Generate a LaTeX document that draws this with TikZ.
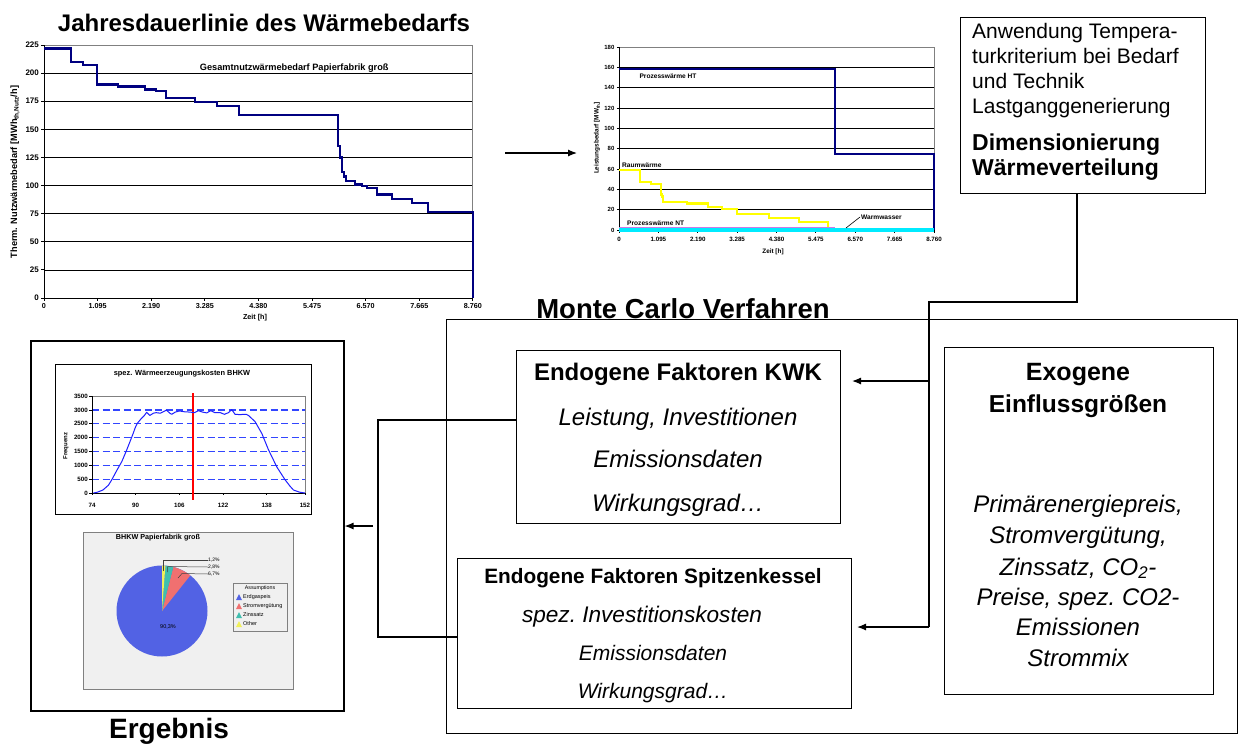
\documentclass[tikz,border=0pt]{standalone}
\usepackage{fontspec}
\setmainfont{Liberation Sans}
\usetikzlibrary{arrows.meta}

\definecolor{navyline}{RGB}{0,0,128}
\definecolor{rwyellow}{RGB}{255,255,0}
\definecolor{wwcyan}{RGB}{0,235,255}
\definecolor{ntviolet}{RGB}{205,120,230}
\definecolor{histblue}{RGB}{30,30,255}
\definecolor{dashblue}{RGB}{50,70,255}
\definecolor{pieblue}{RGB}{82,98,228}
\definecolor{piered}{RGB}{240,112,112}
\definecolor{pieteal}{RGB}{64,190,175}
\definecolor{pieyellow}{RGB}{240,240,90}
\definecolor{piebg}{RGB}{240,240,240}

\newcommand\setfs[1]{\fontsize{#1}{#1}\selectfont}

\tikzset{
  box/.style={draw=black, line width=1.3pt, inner sep=0pt, anchor=north west},
  conn/.style={line width=1.2pt},
  arr/.style={conn, -{Latex[length=9pt,width=7pt]}},
  gridln/.style={black, line width=0.7pt},
  frameln/.style={gray, line width=0.9pt},
  axisln/.style={black, line width=0.9pt},
  txt/.style={inner sep=0pt, anchor=base},
  lbl/.style={inner sep=1pt, font=\bfseries\setfs{#1}},
}

\begin{document}
\begin{tikzpicture}[x=1pt, y=-1pt]
\useasboundingbox (0,0) rectangle (1242,744);
\fill[white] (0,0) rectangle (1242,744);

% ---------- Jahresdauerlinie (top left) ----------
\node[txt, font=\bfseries\setfs{24}] (jtitle) at (264,31) {Jahresdauerlinie des Wärmebedarfs};
\begin{scope}[shift={(44,298)}, x=0.048973pt, y=1.12444pt]
  \foreach \v in {25,50,...,200} \draw[gridln] (0,\v) -- (8760,\v);
  \draw[frameln] (0,225) -- (8760,225) -- (8760,0);
  \draw[axisln] (0,225) -- (0,0) -- (8760,0);
  \foreach \v in {0,25,...,225} {
    \draw[axisln] (0,\v) -- (-60,\v);
    \node[lbl=8, anchor=east] (jy\v) at (-80,\v) {\v};
  }
  \foreach \h/\t in {0/0,1095/1.095,2190/2.190,3285/3.285,4380/4.380,5475/5.475,6570/6.570,7665/7.665,8760/8.760} {
    \draw[axisln] (\h,0) -- (\h,-3);
    \node[lbl=7.2] (jx\h) at (\h,-7.3) {\t};
  }
  \node[lbl=9.2] (jsub) at (5110,204) {Gesamtnutzwärmebedarf Papierfabrik groß};
  \draw[navyline, line width=2.4pt, line join=miter]
    (0,222) -- (551,222) -- (551,210) -- (800,210) -- (800,207) -- (1078,207) -- (1078,190)
    -- (1515,190) -- (1515,188) -- (2062,188) -- (2062,185.5) -- (2287,185.5) -- (2287,184)
    -- (2487,184) -- (2487,178) -- (3083,178) -- (3083,174.5) -- (3528,174.5) -- (3528,171)
    -- (3986,171) -- (3986,162.5) -- (6003,162.5) -- (6003,135) -- (6040,135) -- (6040,125)
    -- (6080,125) -- (6080,112) -- (6130,112) -- (6130,108) -- (6170,108) -- (6170,104)
    -- (6351,104) -- (6351,101) -- (6500,101) -- (6500,99.5) -- (6596,99.5) -- (6596,98)
    -- (6800,98) -- (6800,92) -- (7106,92) -- (7106,88) -- (7515,88) -- (7515,84.5)
    -- (7841,84.5) -- (7841,76.5) -- (8760,76.5) -- (8760,0);
\end{scope}
\node[lbl=9.2, rotate=90] (jylab) at (15,172) {Therm. Nutzwärmebedarf [MWh\textsubscript{th,Nutz}/h]};
\node[lbl=7.2] (jxlab) at (255,318) {Zeit [h]};

% ---------- Leistungsbedarf (top middle) ----------
\begin{scope}[shift={(619,230)}, x=0.035959pt, y=1.0167pt]
  \foreach \v in {20,40,...,160} \draw[gridln] (0,\v) -- (8760,\v);
  \draw[frameln] (0,180) -- (8760,180) -- (8760,0);
  \draw[axisln] (0,180) -- (0,0) -- (8760,0);
  \foreach \v in {0,20,...,180} {
    \draw[axisln] (0,\v) -- (-60,\v);
    \node[lbl=6, anchor=east] (ly\v) at (-95,\v) {\v};
  }
  \foreach \h/\t in {0/0,1095/1.095,2190/2.190,3285/3.285,4380/4.380,5475/5.475,6570/6.570,7665/7.665,8760/8.760} {
    \draw[axisln] (\h,0) -- (\h,-2.5);
    \node[lbl=6.2] (lx\h) at (\h,-9.3) {\t};
  }
  \draw[navyline, line width=2.2pt, line join=miter]
    (0,158.5) -- (6007,158.5) -- (6007,75) -- (8760,75) -- (8760,0);
  \draw[rwyellow, line width=2.2pt, line join=miter]
    (0,59) -- (584,59) -- (584,47.5) -- (890,47.5) -- (890,45) -- (1168,45) -- (1168,35)
    -- (1200,35) -- (1200,33) -- (1230,33) -- (1230,27.5) -- (1890,27.5) -- (1890,26)
    -- (2475,26) -- (2475,23) -- (2860,23) -- (2860,21) -- (3280,21) -- (3280,15.5)
    -- (4170,15.5) -- (4170,12) -- (5014,12) -- (5014,8) -- (5821,8) -- (5821,0);
  \draw[ntviolet, line width=1.6pt] (0,2.6) -- (6007,2.6);
  \draw[wwcyan, line width=3.2pt] (0,0) -- (8760,0);
\end{scope}
\node[lbl=6.6] (lht) at (668,76) {Prozesswärme HT};
\node[lbl=6.6, anchor=west] (lrw) at (621,165) {Raumwärme};
\node[lbl=6.6, anchor=west] (lnt) at (626,223) {Prozesswärme NT};
\node[lbl=6.6, anchor=west] (lww) at (860,217) {Warmwasser};
\draw[black, line width=0.6pt] (846,228) -- (lww.west);
\node[lbl=6.4, rotate=90] (lylab) at (597,138) {Leistungsbedarf [MW\textsubscript{th}]};
\node[lbl=6.4] (lxlab) at (773,252) {Zeit [h]};

% arrow between the two load curves
\coordinate (ta1) at (505,153);
\coordinate (ta2) at (577,153);
\draw[arr] (ta1) -- (ta2);

% ---------- Dimensionierung box (top right) ----------
\node[box, minimum width=245pt, minimum height=176pt] (dim) at (960,17) {};
\node[txt, anchor=base west, font=\setfs{21}] (d1) at (972,38) {Anwendung Tempera-};
\node[txt, anchor=base west, font=\setfs{21}] (d2) at (972,63) {turkriterium bei Bedarf};
\node[txt, anchor=base west, font=\setfs{21}] (d3) at (972,88) {und Technik};
\node[txt, anchor=base west, font=\setfs{21}] (d4) at (972,113) {Lastganggenerierung};
\node[txt, anchor=base west, font=\bfseries\setfs{23}] (d5) at (972,150) {Dimensionierung};
\node[txt, anchor=base west, font=\bfseries\setfs{23}] (d6) at (972,175) {Wärmeverteilung};

% ---------- Monte Carlo frame ----------
\node[box, minimum width=791pt, minimum height=414pt] (mc) at (446,319) {};
\node[txt, font=\bfseries\setfs{27.5}] (mctitle) at (683,318) {Monte Carlo Verfahren};

% Endogene Faktoren KWK
\node[box, minimum width=324pt, minimum height=173pt] (kwk) at (516,350) {};
\node[txt, font=\bfseries\setfs{24}] (k1) at (678,380) {Endogene Faktoren KWK};
\node[txt, font=\itshape\setfs{24}] (k2) at (678,425) {Leistung, Investitionen};
\node[txt, font=\itshape\setfs{24}] (k3) at (678,467) {Emissionsdaten};
\node[txt, font=\itshape\setfs{24}] (k4) at (678,511) {Wirkungsgrad…};

% Endogene Faktoren Spitzenkessel
\node[box, minimum width=394pt, minimum height=150pt] (spk) at (457,558) {};
\node[txt, font=\bfseries\setfs{20.8}] (s1) at (653,583) {Endogene Faktoren Spitzenkessel};
\node[txt, font=\itshape\setfs{22.6}] (s2) at (642,622) {spez.\ Investitionskosten};
\node[txt, font=\itshape\setfs{21}] (s3) at (653,660) {Emissionsdaten};
\node[txt, font=\itshape\setfs{21}] (s4) at (653,698) {Wirkungsgrad…};

% Exogene Einflussgroessen
\node[box, minimum width=269pt, minimum height=347pt] (exo) at (944,347) {};
\node[txt, font=\bfseries\setfs{25}] (e1) at (1078,380) {Exogene};
\node[txt, font=\bfseries\setfs{24.5}] (e2) at (1078,412) {Einflussgrößen};
\node[txt, font=\itshape\setfs{24}] (e3) at (1078,512) {Primärenergiepreis,};
\node[txt, font=\itshape\setfs{24}] (e4) at (1078,543) {Stromvergütung,};
\node[txt, font=\itshape\setfs{24}] (e5) at (1078,575) {Zinssatz, CO\textsubscript{2}-};
\node[txt, font=\itshape\setfs{24}] (e6) at (1078,605) {Preise, spez.\ CO2-};
\node[txt, font=\itshape\setfs{24}] (e7) at (1078,635) {Emissionen};
\node[txt, font=\itshape\setfs{24}] (e8) at (1078,666) {Strommix};

% connectors from the Dimensionierung box into the endogenous factors
\coordinate (dtap) at (1077,193);
\coordinate (dbend) at (929,302);
\coordinate (ktap) at (929,381);
\coordinate (kin) at (852,381);
\coordinate (stap) at (929,627);
\coordinate (sin) at (857,627);
\draw[conn] (dtap) |- (dbend) -- (stap);
\draw[arr] (ktap) -- (kin);
\draw[arr] (stap) -- (sin);

% ---------- Ergebnis ----------
\node[box, line width=1.5pt, minimum width=313pt, minimum height=370pt] (res) at (30,340) {};
\node[txt, font=\bfseries\setfs{28}] (restitle) at (169,738) {Ergebnis};

% bracket collecting both endogenous boxes, arrow to the result
\coordinate (bk1) at (378,420);
\coordinate (bk2) at (378,637);
\draw[conn] (kwk.west |- bk1) -- (bk1) -- (bk2) -- (spk.west |- bk2);
\coordinate (rfrom) at (373,526);
\draw[arr] (rfrom) -- (res.east |- rfrom);

% histogram of the specific heat generation costs
\node[box, draw=black, line width=0.9pt, minimum width=256pt, minimum height=150pt] (hist) at (55,364) {};
\node[lbl=7.4] (htitle) at (182,374) {spez. Wärmeerzeugungskosten BHKW};
\begin{scope}[shift={(-110.02,493)}, x=2.73pt, y=0.027714pt]
  \foreach \v in {500,1000,...,3000}
    \draw[draw=dashblue, line width=1.3pt, dash pattern=on 7pt off 3.5pt] (74,\v) -- (152,\v);
  \draw[frameln, line width=0.8pt] (74,3500) -- (152,3500) -- (152,0);
  \draw[axisln, line width=0.8pt] (74,3500) -- (74,0) -- (152,0);
  \foreach \v in {0,500,...,3500} {
    \draw[axisln, line width=0.7pt] (74,\v) -- (73,\v);
    \node[lbl=6.2, anchor=east] (hy\v) at (72.9,\v) {\v};
  }
  \foreach \v in {74,90,106,122,138,152} {
    \draw[axisln, line width=0.7pt] (\v,0) -- (\v,-70);
    \node[lbl=6.2] (hx\v) at (\v,-433) {\v};
  }
  \draw[red, line width=1.3pt] (111,3608) -- (111,-252);
  \draw[histblue, line width=1pt, line join=round]
    (74.5,0) -- (76,30) -- (78,108) -- (80,280) -- (81.2,469) -- (83,800) -- (84.9,1130)
    -- (86.5,1500) -- (87.9,1850) -- (89.1,2154) -- (89.8,2350) -- (90.6,2515) -- (92,2680)
    -- (93.2,2800) -- (94,2911) -- (95.2,2800) -- (96.5,2880) -- (97.5,2900) -- (99,2880)
    -- (100.5,2950) -- (101.3,2990) -- (102.5,2880) -- (103.2,2840) -- (104.5,2920)
    -- (106,2960) -- (108,2930) -- (110,2920) -- (111.5,2900) -- (113,2970) -- (114.5,2920)
    -- (116,2890) -- (117.5,2970) -- (119,2900) -- (121,2900) -- (122.5,2840) -- (124,2900)
    -- (125.2,3010) -- (126.4,2840) -- (128,2830) -- (130.5,2840) -- (131.3,2800)
    -- (133.7,2580) -- (136.2,2150) -- (138.6,1570) -- (141.7,940) -- (144.7,480)
    -- (146.5,250) -- (147.8,108) -- (150,30) -- (152,0);
\end{scope}
\node[lbl=6, rotate=90] (hylab) at (66,446) {Frequenz};

% sensitivity pie chart
\node[box, draw=gray, fill=piebg, line width=0.9pt, minimum width=210pt, minimum height=157pt] (pie) at (83,532) {};
\node[lbl=7.2] (ptitle) at (158,538) {BHKW Papierfabrik groß};
\coordinate (pc) at (162,611);
\begin{scope}[shift={(pc)}, yscale=-1]
  \fill[pieblue] (0,0) circle (45.5);
  \fill[piered] (0,0) -- (75.6:45.5) arc[start angle=75.6, end angle=51.5, radius=45.5] -- cycle;
  \fill[pieteal] (0,0) -- (85.7:45.5) arc[start angle=85.7, end angle=75.6, radius=45.5] -- cycle;
  \fill[pieyellow] (0,0) -- (90:45.5) arc[start angle=90, end angle=85.7, radius=45.5] -- cycle;
\end{scope}
\node[inner sep=0pt, font=\setfs{5}, anchor=west] (p1) at (208,560) {1,2\%};
\node[inner sep=0pt, font=\setfs{5}, anchor=west] (p2) at (208,567) {2,8\%};
\node[inner sep=0pt, font=\setfs{5}, anchor=west] (p3) at (208,574) {6,7\%};
\draw[darkgray, line width=0.5pt] (163.5,571) -- (163.5,560) -- (p1.west);
\draw[darkgray, line width=0.5pt] (167.5,572) -- (167.5,566.5) -- (p2.west);
\draw[darkgray, line width=0.5pt] (178,578) -- (182,573.5) -- (p3.west);
\node[inner sep=0pt, font=\setfs{5.5}] (p4) at (168,627) {90,3\%};

% legend of the pie chart
\node[box, draw=gray, line width=0.7pt, minimum width=54pt, minimum height=48pt] (pleg) at (233,583) {};
\node[inner sep=0pt, font=\setfs{5.3}] (lg0) at (260,588) {Assumptions};
\foreach \y/\c/\t [count=\i] in {597/pieblue/Erdgaspeis, 606/piered/Stromvergütung, 615/pieteal/Zinssatz, 624/pieyellow/Other} {
  \fill[\c] (236,\y+3) -- (242,\y+3) -- (239,\y-3) -- cycle;
  \node[inner sep=0pt, font=\setfs{5.5}, anchor=west] (lg\i) at (243,\y) {\t};
}
\end{tikzpicture}
\end{document}
